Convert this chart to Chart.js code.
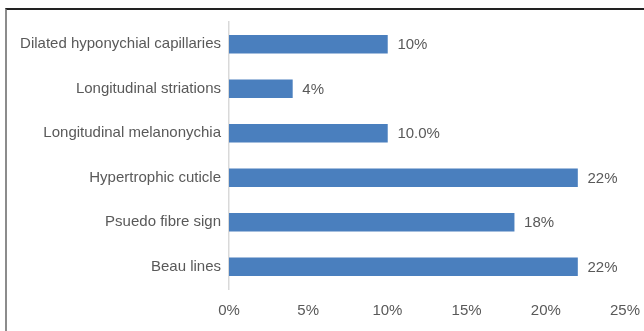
<!DOCTYPE html>
<html>
<head>
<meta charset="utf-8">
<script src="https://cdn.jsdelivr.net/npm/chart.js@4/dist/chart.umd.min.js"></script>
<style>
    body { margin: 0; background: #fff; }
    #wrap { position: relative; width: 644px; height: 331px; }
    #frame {
        position: absolute; left: 5px; top: 8px; right: 0; bottom: 0;
        border-top: 2px solid #222;
        border-left: 2px solid #8c8c8c;
    }
    canvas { position: absolute; left: 0; top: 0; }
</style>
</head>
<body>
<div id="wrap">
    <div id="frame"></div>
    <canvas id="chart" width="644" height="331"></canvas>
</div>
<script>
const categories = [
    "Dilated hyponychial capillaries",
    "Longitudinal striations",
    "Longitudinal melanonychia",
    "Hypertrophic cuticle",
    "Psuedo fibre sign",
    "Beau lines"
];

const values = [10, 4, 10, 22, 18, 22];

const valueLabels = ["10%", "4%", "10.0%", "22%", "18%", "22%"];

const xTicks = [0, 5, 10, 15, 20, 25];

const fontFamily = "'Liberation Sans', Arial, sans-serif";

// text after each bar end
const barLabels = {
    id: "barLabels",
    afterDatasetsDraw(chart) {
        const ctx = chart.ctx;
        const meta = chart.getDatasetMeta(0);
        ctx.save();
        ctx.font = "15px " + fontFamily;
        ctx.fillStyle = "#595959";
        ctx.textAlign = "left";
        ctx.textBaseline = "middle";
        meta.data.forEach((bar, i) => {
            ctx.fillText(valueLabels[i], bar.x + 10, bar.y + 1);
        });
        ctx.restore();
    }
};

new Chart(document.getElementById("chart"), {
    type: "bar",
    data: {
        labels: categories,
        datasets: [{
            data: values,
            backgroundColor: "#4a7fbe",
            borderWidth: 0,
            barThickness: 18
        }]
    },
    options: {
        indexAxis: "y",
        responsive: false,
        animation: false,
        layout: {
            padding: { top: 22, right: 19, bottom: 0, left: 0 }
        },
        plugins: {
            legend: { display: false },
            tooltip: { enabled: false }
        },
        scales: {
            x: {
                min: 0,
                max: 25,
                afterBuildTicks(scale) {
                    scale.ticks = xTicks.map(v => ({ value: v }));
                },
                afterFit(scale) {
                    scale.height = 42;
                    scale.paddingLeft = 0;
                    scale.paddingRight = 0;
                },
                grid: { display: false, drawTicks: false },
                border: { display: false },
                ticks: {
                    padding: 13,
                    color: "#595959",
                    font: { family: fontFamily, size: 15 },
                    callback: v => v + "%"
                }
            },
            y: {
                afterFit(scale) {
                    scale.width = 229;
                },
                grid: { display: false, drawTicks: false },
                border: { display: true, color: "#d9d9d9", width: 1.5 },
                ticks: {
                    padding: 8,
                    color: "#595959",
                    font: { family: fontFamily, size: 15 }
                }
            }
        }
    },
    plugins: [barLabels]
});
</script>
</body>
</html>
